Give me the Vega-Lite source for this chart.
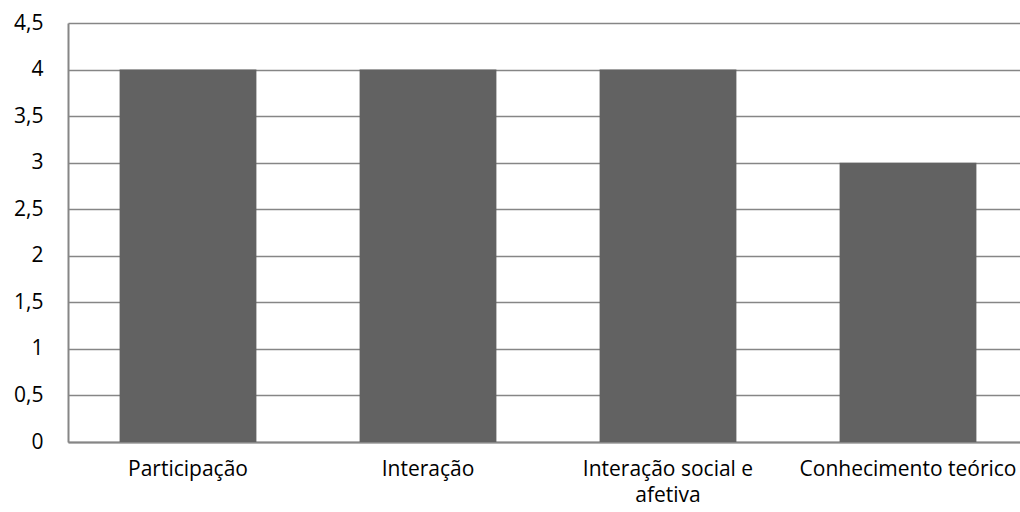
{
  "$schema": "https://vega.github.io/schema/vega-lite/v6.json",
  "width": 960,
  "height": 419,
  "autosize": "none",
  "padding": {"left": 68, "top": 23, "right": 0, "bottom": 70},
  "background": "white",
  "config": {
    "view": {"stroke": null},
    "font": "Open Sans",
    "axis": {"labelFontSize": 21, "labelFont": "Open Sans"}
  },
  "data": {
    "values": [
      {"categoria": "Participação", "valor": 4},
      {"categoria": "Interação", "valor": 4},
      {"categoria": "Interação social e afetiva", "valor": 4},
      {"categoria": "Conhecimento teórico", "valor": 3}
    ]
  },
  "mark": {"type": "bar", "color": "#626262"},
  "encoding": {
    "x": {
      "field": "categoria",
      "type": "nominal",
      "sort": null,
      "scale": {"paddingInner": 0.43, "paddingOuter": 0.215},
      "axis": {
        "title": null,
        "labelAngle": 0,
        "labelFontSize": 21,
        "labelColor": "#000000",
        "labelPadding": 16,
        "labelLineHeight": 26,
        "labelLimit": 300,
        "ticks": false,
        "domainColor": "#868686",
        "domainWidth": 2,
        "labelExpr": "datum.label == 'Interação social e afetiva' ? ['Interação social e', 'afetiva'] : datum.label"
      }
    },
    "y": {
      "field": "valor",
      "type": "quantitative",
      "scale": {"domain": [0, 4.5]},
      "axis": {
        "title": null,
        "values": [0, 0.5, 1, 1.5, 2, 2.5, 3, 3.5, 4, 4.5],
        "labelExpr": "replace(format(datum.value, '.1~f'), '.', ',')",
        "labelFontSize": 21,
        "labelColor": "#000000",
        "labelPadding": 25,
        "ticks": false,
        "grid": true,
        "gridColor": "#868686",
        "gridWidth": 1.5,
        "domainColor": "#868686",
        "domainWidth": 2
      }
    }
  }
}
